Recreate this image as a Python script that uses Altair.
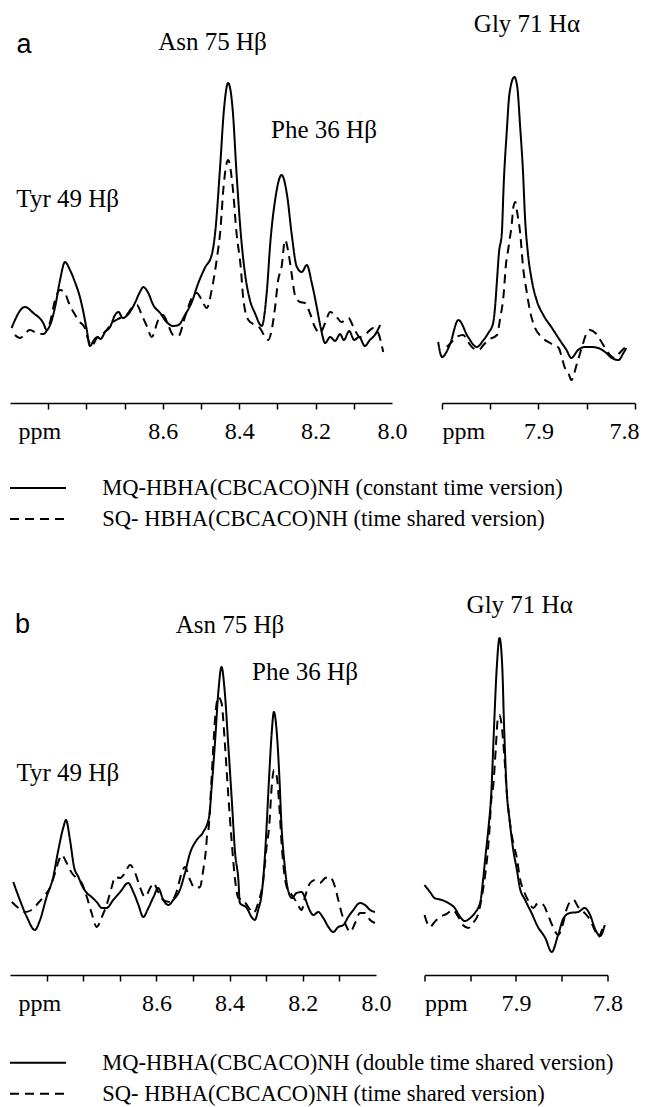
import altair as alt
import pandas as pd

SERIF = "Liberation Serif"
SANS = "Liberation Sans"

MQ_A = "MQ-HBHA(CBCACO)NH (constant time version)"
MQ_B = "MQ-HBHA(CBCACO)NH (double time shared version)"
SQ = "SQ- HBHA(CBCACO)NH (time shared version)"

# ---------------- panel a, 9.0-8.0 ppm window ----------------
a_left_solid_ppm = [8.996, 8.961, 8.939, 8.913, 8.904, 8.895, 8.882, 8.869, 8.856, 8.843, 8.830, 8.817, 8.808, 8.799, 8.791, 8.780, 8.771, 8.763, 8.751, 8.738, 8.725, 8.716, 8.705, 8.690, 8.673, 8.660, 8.651, 8.638, 8.625, 8.607, 8.590, 8.573, 8.559, 8.542, 8.524, 8.507, 8.490, 8.472, 8.463, 8.450, 8.440, 8.429, 8.417, 8.407, 8.396, 8.385, 8.372, 8.359, 8.341, 8.328, 8.318, 8.306, 8.289, 8.274, 8.263, 8.249, 8.236, 8.223, 8.210, 8.197, 8.187, 8.175, 8.162, 8.149, 8.136, 8.126, 8.112, 8.099, 8.086, 8.071, 8.058, 8.045, 8.031]
a_left_solid_int = [75, 96, 90, 80, 73, 78, 96, 123, 141, 133, 121, 106, 91, 73, 57, 63, 66, 64, 71, 76, 88, 91, 85, 89, 100, 111, 116, 110, 98, 90, 81, 77, 78, 88, 101, 120, 135, 148, 170, 236, 293, 320, 293, 230, 170, 130, 103, 90, 77, 110, 163, 203, 228, 206, 170, 136, 131, 138, 120, 96, 76, 60, 66, 62, 69, 63, 72, 63, 66, 57, 63, 68, 78]
a_left_dash_ppm = [8.987, 8.974, 8.948, 8.930, 8.913, 8.895, 8.882, 8.869, 8.856, 8.847, 8.834, 8.817, 8.804, 8.795, 8.786, 8.773, 8.760, 8.747, 8.730, 8.712, 8.695, 8.681, 8.668, 8.655, 8.642, 8.629, 8.612, 8.599, 8.586, 8.573, 8.559, 8.542, 8.524, 8.511, 8.498, 8.485, 8.472, 8.459, 8.450, 8.440, 8.429, 8.417, 8.407, 8.396, 8.389, 8.376, 8.359, 8.346, 8.332, 8.324, 8.315, 8.306, 8.298, 8.289, 8.280, 8.271, 8.263, 8.254, 8.241, 8.228, 8.215, 8.202, 8.188, 8.175, 8.162, 8.149, 8.132, 8.114, 8.101, 8.084, 8.066, 8.049, 8.036, 8.023]
a_left_dash_int = [68, 65, 73, 70, 69, 81, 103, 113, 110, 101, 91, 81, 75, 63, 57, 65, 68, 73, 81, 85, 88, 95, 98, 88, 77, 66, 83, 88, 78, 68, 67, 86, 105, 110, 103, 95, 113, 143, 170, 220, 243, 216, 170, 136, 103, 83, 78, 75, 66, 63, 73, 96, 123, 136, 163, 150, 130, 108, 101, 100, 90, 76, 70, 80, 91, 88, 81, 85, 76, 66, 70, 75, 70, 51]

# ---------------- panel a, 8.0-7.8 ppm window ----------------
a_right_solid_ppm = [8.004, 8.000, 7.992, 7.983, 7.973, 7.964, 7.957, 7.952, 7.947, 7.945, 7.943, 7.941, 7.938, 7.936, 7.933, 7.930, 7.925, 7.922, 7.919, 7.916, 7.914, 7.911, 7.907, 7.902, 7.895, 7.886, 7.878, 7.871, 7.866, 7.859, 7.852, 7.845, 7.838, 7.831, 7.824, 7.817, 7.812, 7.809]
a_right_solid_int = [61, 46, 58, 83, 66, 56, 63, 70, 80, 96, 123, 150, 170, 220, 270, 310, 326, 316, 276, 230, 186, 150, 123, 103, 88, 75, 63, 53, 45, 53, 56, 56, 55, 51, 45, 43, 50, 55]
a_right_dash_ppm = [7.995, 7.988, 7.985, 7.978, 7.973, 7.968, 7.962, 7.957, 7.952, 7.943, 7.940, 7.936, 7.934, 7.931, 7.930, 7.928, 7.926, 7.924, 7.922, 7.919, 7.916, 7.912, 7.909, 7.904, 7.897, 7.888, 7.879, 7.876, 7.873, 7.869, 7.866, 7.860, 7.855, 7.850, 7.847, 7.841, 7.836, 7.831, 7.826, 7.821, 7.816, 7.810]
a_right_dash_int = [56, 63, 66, 68, 61, 55, 53, 58, 63, 68, 83, 110, 136, 156, 163, 176, 196, 201, 190, 170, 136, 110, 93, 76, 66, 60, 55, 46, 36, 30, 23, 40, 56, 70, 73, 70, 63, 55, 48, 45, 50, 56]

# ---------------- panel b, 9.0-8.0 ppm window ----------------
b_left_solid_ppm = [8.991, 8.973, 8.954, 8.932, 8.918, 8.900, 8.882, 8.868, 8.854, 8.847, 8.836, 8.825, 8.813, 8.804, 8.790, 8.777, 8.763, 8.749, 8.736, 8.718, 8.699, 8.677, 8.663, 8.649, 8.636, 8.622, 8.608, 8.595, 8.581, 8.567, 8.554, 8.536, 8.522, 8.508, 8.490, 8.472, 8.456, 8.449, 8.440, 8.431, 8.422, 8.413, 8.404, 8.394, 8.385, 8.376, 8.372, 8.353, 8.340, 8.331, 8.322, 8.312, 8.303, 8.299, 8.292, 8.285, 8.279, 8.271, 8.264, 8.258, 8.251, 8.242, 8.230, 8.217, 8.203, 8.194, 8.185, 8.171, 8.158, 8.144, 8.130, 8.117, 8.103, 8.089, 8.076, 8.062, 8.044, 8.030, 8.016, 8.003]
b_left_solid_int = [93, 75, 58, 45, 55, 78, 98, 125, 148, 155, 135, 108, 98, 90, 82, 78, 73, 67, 67, 75, 83, 92, 83, 70, 58, 67, 78, 87, 75, 70, 75, 85, 102, 122, 135, 143, 158, 188, 232, 282, 308, 282, 232, 175, 122, 95, 72, 67, 58, 55, 65, 82, 122, 148, 198, 242, 263, 242, 198, 148, 115, 88, 77, 82, 83, 77, 68, 60, 63, 57, 48, 43, 48, 50, 58, 65, 72, 70, 65, 63]
b_left_dash_ppm = [8.995, 8.977, 8.959, 8.941, 8.923, 8.904, 8.891, 8.877, 8.868, 8.859, 8.845, 8.831, 8.818, 8.804, 8.790, 8.777, 8.763, 8.749, 8.736, 8.722, 8.713, 8.699, 8.686, 8.672, 8.658, 8.645, 8.631, 8.617, 8.608, 8.595, 8.581, 8.563, 8.545, 8.531, 8.522, 8.508, 8.495, 8.481, 8.472, 8.464, 8.461, 8.458, 8.449, 8.440, 8.431, 8.422, 8.413, 8.404, 8.394, 8.385, 8.376, 8.363, 8.349, 8.335, 8.322, 8.308, 8.299, 8.292, 8.285, 8.279, 8.271, 8.264, 8.258, 8.244, 8.230, 8.217, 8.203, 8.194, 8.180, 8.167, 8.153, 8.139, 8.126, 8.112, 8.103, 8.094, 8.080, 8.071, 8.057, 8.044, 8.030, 8.016, 8.003]
b_left_dash_int = [73, 67, 63, 65, 72, 80, 87, 102, 113, 120, 112, 102, 97, 92, 78, 62, 48, 58, 70, 88, 98, 97, 102, 110, 102, 88, 78, 87, 92, 83, 75, 73, 83, 102, 108, 95, 87, 88, 105, 128, 142, 145, 198, 255, 278, 272, 232, 182, 132, 95, 77, 75, 68, 62, 72, 95, 128, 148, 188, 205, 198, 168, 132, 88, 80, 73, 65, 78, 92, 95, 92, 97, 98, 88, 75, 62, 48, 43, 52, 62, 62, 55, 52]

# ---------------- panel b, 8.0-7.8 ppm window ----------------
b_right_solid_ppm = [8.000, 7.994, 7.989, 7.981, 7.974, 7.967, 7.961, 7.956, 7.950, 7.945, 7.939, 7.936, 7.933, 7.930, 7.927, 7.924, 7.921, 7.918, 7.915, 7.913, 7.910, 7.907, 7.903, 7.899, 7.896, 7.890, 7.883, 7.876, 7.868, 7.861, 7.854, 7.848, 7.841, 7.832, 7.825, 7.819, 7.814, 7.808, 7.803]
b_right_solid_int = [90, 83, 77, 75, 72, 67, 58, 54, 57, 62, 73, 95, 122, 148, 182, 248, 308, 337, 308, 248, 182, 155, 125, 105, 88, 75, 62, 48, 37, 23, 40, 57, 62, 63, 67, 60, 47, 39, 50]
b_right_dash_ppm = [8.000, 7.994, 7.989, 7.983, 7.976, 7.969, 7.963, 7.958, 7.952, 7.947, 7.941, 7.938, 7.934, 7.931, 7.929, 7.927, 7.925, 7.922, 7.920, 7.918, 7.916, 7.913, 7.910, 7.907, 7.905, 7.902, 7.899, 7.896, 7.891, 7.887, 7.881, 7.876, 7.870, 7.865, 7.859, 7.854, 7.849, 7.845, 7.841, 7.837, 7.832, 7.826, 7.819, 7.814, 7.810, 7.806, 7.803]
b_right_dash_int = [60, 48, 53, 58, 61, 65, 58, 50, 47, 52, 62, 75, 98, 122, 145, 175, 188, 228, 255, 260, 252, 222, 182, 155, 142, 128, 117, 98, 83, 75, 67, 72, 70, 60, 47, 40, 50, 65, 73, 75, 68, 63, 55, 45, 38, 45, 52]

# ---------------- annotations ----------------
a_left_labels = ["Asn 75 Hβ", "Phe 36 Hβ", "Tyr 49 Hβ"]
a_left_label_ppm = [8.470, 8.178, 8.849]
a_left_label_int = [353, 265, 196]
a_right_labels = ["Gly 71 Hα"]
a_right_label_ppm = [7.912]
a_right_label_int = [371]
b_left_labels = ["Asn 75 Hβ", "Phe 36 Hβ", "Tyr 49 Hβ"]
b_left_label_ppm = [8.399, 8.194, 8.842]
b_left_label_int = [342, 295, 194]
b_right_labels = ["Gly 71 Hα"]
b_right_label_ppm = [7.896]
b_right_label_int = [362]
panel_letters = ["a", "b"]
panel_letter_ppm = [8.963, 8.966]
panel_letter_int = [350, 342]

left_ticks = [8.0, 8.1, 8.2, 8.3, 8.4, 8.5, 8.6, 8.7, 8.8, 8.9]
right_ticks = [7.8, 7.85, 7.9, 7.95, 8.0]

H = 395


def spectrum_df(sp, si, dp, di, mq):
    rows = []
    for i, (p, v) in enumerate(zip(sp, si)):
        rows.append({"ppm": p, "intensity": v, "series": mq, "idx": i})
    for i, (p, v) in enumerate(zip(dp, di)):
        rows.append({"ppm": p, "intensity": v, "series": SQ, "idx": i})
    return pd.DataFrame(rows)


def window(df, ann, letter, domain, width, left, mq, legend_y, edge_label_right=False):
    if left:
        axis = alt.Axis(
            values=left_ticks,
            labelExpr="(datum.value < 8.7 && round(datum.value*10) % 2 == 0) ? format(datum.value, '.1f') : ''",
            tickOpacity={"condition": {"test": "datum.value < 8.05", "value": 0}, "value": 1},
            title="ppm", titleX=8,
        )
    else:
        extra = {}
        if edge_label_right:
            extra = dict(
                labelAlign={"condition": {"test": "datum.value < 7.81", "value": "right"}, "value": "center"},
                labelOffset={"condition": {"test": "datum.value < 7.81", "value": 4}, "value": 0},
            )
        axis = alt.Axis(
            values=right_ticks,
            labelExpr="(abs(datum.value-7.9) < 0.001 || abs(datum.value-7.8) < 0.001) ? format(datum.value, '.1f') : ''",
            title="ppm", titleX=0, **extra,
        )
    x = alt.X("ppm:Q", scale=alt.Scale(domain=domain, reverse=True, nice=False, zero=False), axis=axis)
    y = alt.Y("intensity:Q", scale=alt.Scale(domain=[0, H], nice=False, zero=False), axis=None)
    if legend_y is None:
        leg = None
    else:
        leg = alt.Legend(
            orient="none", legendX=0, legendY=legend_y, title=None,
            symbolType="M-2.8,0H2.8", symbolSize=400, symbolStrokeWidth=1.8,
            symbolStrokeColor="black", symbolFillColor="transparent",
            symbolOffset=16.75, labelOffset=53, labelFont=SERIF, labelFontSize=22.5,
            labelColor="black", labelLimit=0, rowPadding=8, padding=0,
        )
    lines = alt.Chart(df).mark_line(color="black", strokeWidth=2.0, strokeJoin="round",
                                    interpolate="monotone").encode(
        x=x, y=y, detail="series:N", order="idx:Q",
        strokeDash=alt.StrokeDash("series:N", scale=alt.Scale(domain=[mq, SQ], range=[[1, 0], [9, 6]]), legend=leg),
    )
    layers = [lines]
    layers.append(alt.Chart(ann).mark_text(font=SERIF, fontSize=25, color="black", baseline="alphabetic", align="center").encode(
        x=x, y=y, text="label:N"))
    if letter is not None:
        layers.append(alt.Chart(letter).mark_text(font=SANS, fontSize=27, color="black", baseline="alphabetic", align="center").encode(
            x=x, y=y, text="label:N"))
    return alt.layer(*layers).properties(width=width, height=H)


def ann_df(labels, ppm, inten):
    return pd.DataFrame({"label": labels, "ppm": ppm, "intensity": inten})


aL = window(spectrum_df(a_left_solid_ppm, a_left_solid_int, a_left_dash_ppm, a_left_dash_int, MQ_A),
            ann_df(a_left_labels, a_left_label_ppm, a_left_label_int),
            ann_df(panel_letters[:1], panel_letter_ppm[:1], panel_letter_int[:1]),
            [8.0, 9.0], 382, True, MQ_A, 468.75)
aR = window(spectrum_df(a_right_solid_ppm, a_right_solid_int, a_right_dash_ppm, a_right_dash_int, MQ_A),
            ann_df(a_right_labels, a_right_label_ppm, a_right_label_int), None,
            [7.8, 8.0], 193, False, MQ_A, None, edge_label_right=True)
bL = window(spectrum_df(b_left_solid_ppm, b_left_solid_int, b_left_dash_ppm, b_left_dash_int, MQ_B),
            ann_df(b_left_labels, b_left_label_ppm, b_left_label_int),
            ann_df(panel_letters[1:], panel_letter_ppm[1:], panel_letter_int[1:]),
            [8.0, 9.0], 366, True, MQ_B, 471.5)
bR = window(spectrum_df(b_right_solid_ppm, b_right_solid_int, b_right_dash_ppm, b_right_dash_int, MQ_B),
            ann_df(b_right_labels, b_right_label_ppm, b_right_label_int), None,
            [7.8, 8.0], 183, False, MQ_B, None)

row_a = alt.hconcat(aL, aR, spacing=50, bounds="flush").resolve_scale(strokeDash="independent")
row_b = alt.hconcat(bL, bR, spacing=48.5, bounds="flush").resolve_scale(strokeDash="independent")

# nested flush rows report no height of their own, so the row gap includes panel a's height
chart = alt.vconcat(
    row_a, row_b, spacing=572, bounds="flush",
).resolve_scale(
    strokeDash="independent"
).properties(
    padding={"left": 2, "top": 0, "right": 0, "bottom": 0}, background="white"
).configure_view(stroke=None).configure_axis(
    grid=False, domainColor="black", domainWidth=1.5, tickColor="black", tickWidth=1.5,
    tickSize=6,
    labelFont=SERIF, labelFontSize=24, labelColor="black", labelBaseline="middle",
    labelPadding=22, labelFlush=False, labelOverlap=False,
    titleFont=SERIF, titleFontSize=24, titleFontWeight="normal", titleColor="black",
    titleAnchor="start", titleAlign="left", titleBaseline="middle", titleY=28,
)

chart.save("out.html", embed_options={"renderer": "svg", "actions": False})
